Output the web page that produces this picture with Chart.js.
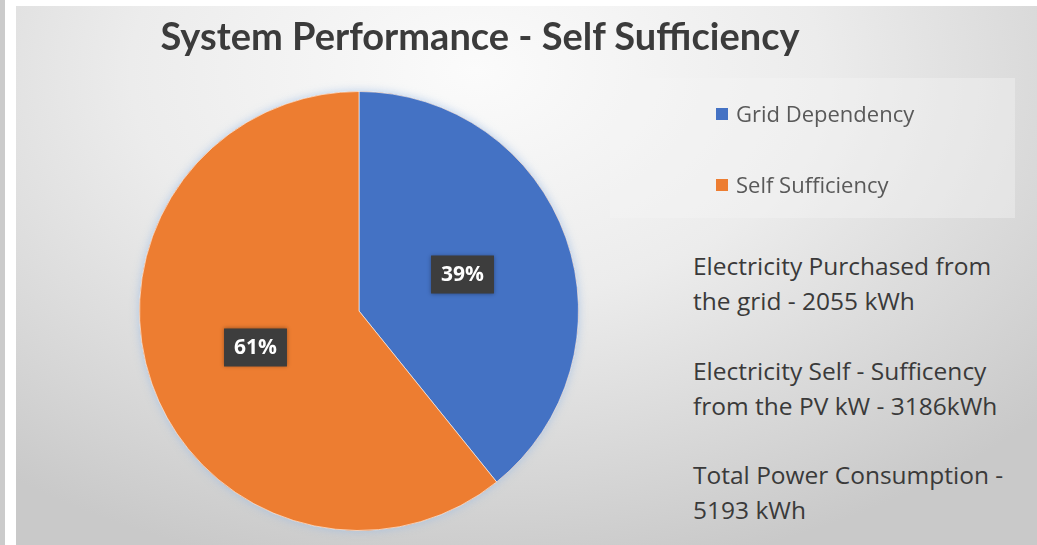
<!DOCTYPE html>
<html>
<head>
<meta charset="utf-8">
<script src="https://cdn.jsdelivr.net/npm/chart.js@4.4.1/dist/chart.umd.min.js"></script>
<style>
  html, body { margin: 0; padding: 0; background: #fff; }
  body { width: 1037px; height: 545px; position: relative; overflow: hidden; font-family: "Open Sans", Lato, sans-serif; }
  #strip { position: absolute; left: 0; top: 0; width: 5px; height: 545px; background: #cbcbcb; }
  #card {
    position: absolute; left: 16px; top: 6px; width: 1021px; height: 539px;
    background: radial-gradient(ellipse 75% 95% at 45% 12%, #fbfbfb 0%, #ececec 45%, #d6d6d6 80%, #c9c9c9 100%);
  }
  #title {
    position: absolute; left: 0; width: 928px; top: 6px; text-align: center;
    font: bold 38px Lato, "Open Sans", sans-serif; color: #3b3b3b; white-space: nowrap;
  }
  #chartBox { position: absolute; left: 0; top: 0; width: 600px; height: 539px; }
  #legend {
    position: absolute; left: 594px; top: 72px; width: 405px; height: 140px;
    background: rgba(244,244,244,0.4);
  }
  .item { position: absolute; left: 106px; font-size: 22px; color: #595959; white-space: nowrap; line-height: 28px; }
  .item i { display: inline-block; width: 12px; height: 12px; margin-right: 8px; vertical-align: 2px; }
  .note { position: absolute; left: 677px; font-size: 24.5px; line-height: 35px; color: #3a3a3a; white-space: nowrap; }
</style>
</head>
<body>
<div id="strip"></div>
<div id="card">
  <div id="chartBox"><canvas id="pie"></canvas></div>
  <div id="title">System Performance - Self Sufficiency</div>
  <div id="legend"></div>
  <div class="note" id="n1" style="top:242px"></div>
  <div class="note" id="n2" style="top:347px"></div>
  <div class="note" id="n3" style="top:451px"></div>
</div>
<script>
// energy split (kWh)
const labels = ['Grid Dependency', 'Self Sufficiency']
const energyKwh = [2055, 3186]
const totalKwh = 5193
const colors = ['#4472C4', '#ED7D31']

// legend built from the same labels / colours
const legend = document.getElementById('legend')
labels.forEach((name, i) => {
    const row = document.createElement('div')
    row.className = 'item'
    row.style.top = (i === 0 ? 21 : 92) + 'px'
    row.innerHTML = '<i style="background:' + colors[i] + '"></i>' + name
    legend.appendChild(row)
})

document.getElementById('n1').innerHTML =
    'Electricity Purchased from<br>the grid - ' + energyKwh[0] + ' kWh'
document.getElementById('n2').innerHTML =
    'Electricity Self - Sufficency<br>from the PV kW - ' + energyKwh[1] + 'kWh'
document.getElementById('n3').innerHTML =
    'Total Power Consumption -<br>' + totalKwh + ' kWh'

// soft halo behind the pie
const pieGlow = {
    id: 'pieGlow',
    beforeDatasetsDraw(chart) {
        const arc = chart.getDatasetMeta(0).data[0]
        if (!arc) return
        const ctx = chart.ctx
        ctx.save()
        ctx.shadowColor = 'rgba(150,185,230,0.7)'
        ctx.shadowBlur = 10
        ctx.fillStyle = colors[1]
        ctx.beginPath()
        ctx.arc(arc.x, arc.y, arc.outerRadius, 0, Math.PI * 2)
        ctx.fill()
        ctx.restore()
    }
}

// percentage callouts on dark boxes
const pctLabels = {
    id: 'pctLabels',
    afterDatasetsDraw(chart) {
        const ctx = chart.ctx
        const data = chart.data.datasets[0].data
        const sum = data.reduce((a, b) => a + b, 0)
        ctx.save()
        ctx.font = 'bold 21px "Open Sans", sans-serif'
        ctx.textAlign = 'center'
        ctx.textBaseline = 'middle'
        chart.getDatasetMeta(0).data.forEach((arc, i) => {
            const txt = Math.round(data[i] / sum * 100) + '%'
            const p = arc.tooltipPosition()
            const w = ctx.measureText(txt).width + 20
            const h = 38
            ctx.shadowColor = 'rgba(0,0,0,0.35)'
            ctx.shadowBlur = 4
            ctx.fillStyle = '#3d3d3d'
            ctx.fillRect(p.x - w / 2, p.y - h / 2, w, h)
            ctx.shadowBlur = 0
            ctx.fillStyle = '#ffffff'
            ctx.fillText(txt, p.x, p.y + 1)
        })
        ctx.restore()
    }
}

new Chart(document.getElementById('pie'), {
    type: 'pie',
    data: {
        labels: labels,
        datasets: [{
            data: energyKwh,
            backgroundColor: colors,
            borderColor: 'rgba(255,255,255,0.6)',
            borderWidth: 1
        }]
    },
    options: {
        responsive: true,
        maintainAspectRatio: false,
        animation: false,
        layout: { padding: { left: 123, right: 37, top: 85, bottom: 14 } },
        plugins: {
            legend: { display: false },
            tooltip: { enabled: false }
        }
    },
    plugins: [pieGlow, pctLabels]
})
</script>
</body>
</html>
